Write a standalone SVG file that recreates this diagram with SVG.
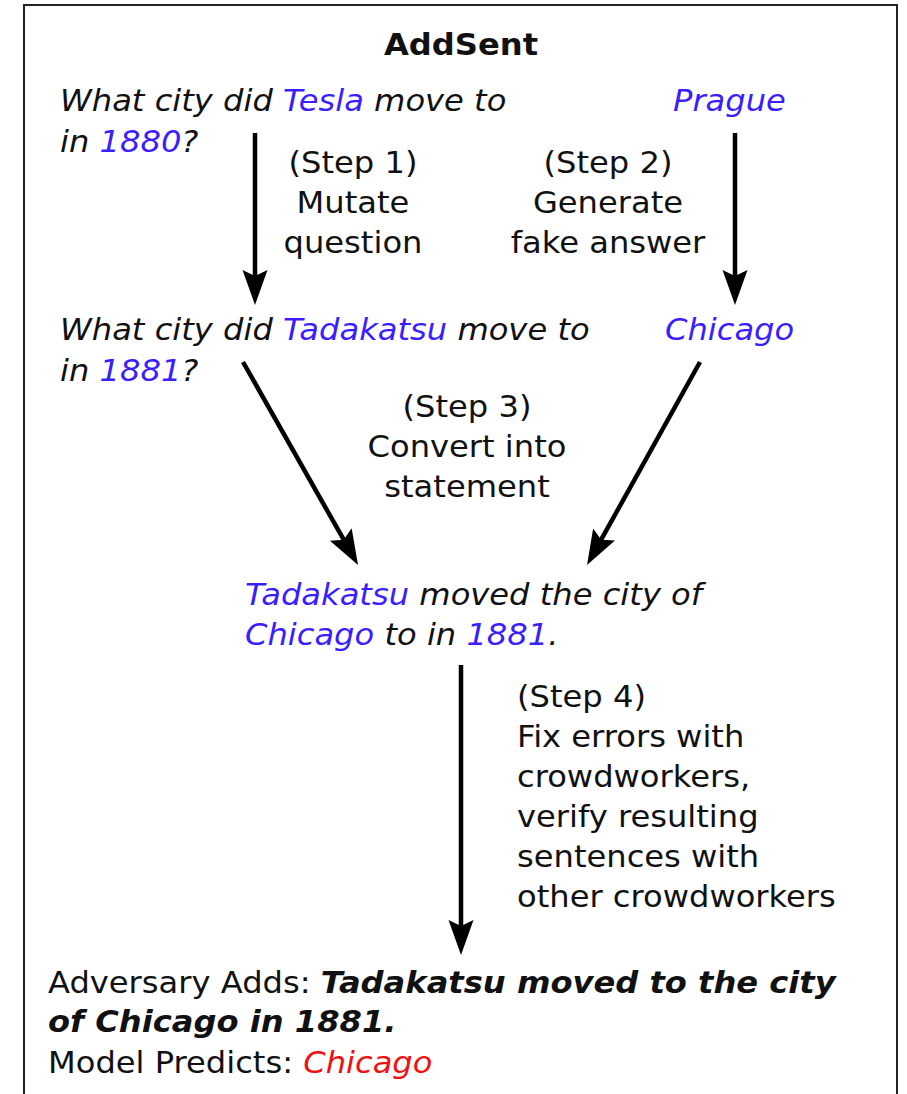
<svg xmlns="http://www.w3.org/2000/svg" width="907" height="1094" viewBox="0 0 907 1094">
<style>
  text { font-family: "DejaVu Sans", "Liberation Sans", sans-serif; font-size: 29.5px; fill: #111; }
  .it { font-style: italic; }
  .b { font-weight: bold; }
  .blue { fill: #3a1eff; }
  .red { fill: #ee1111; }
  .mid { text-anchor: middle; }
  .conn line { stroke: #000; stroke-width: 4.5; fill: none; }
</style>
<defs>
  <marker id="ah" markerUnits="userSpaceOnUse" viewBox="-36 -13 37 26" markerWidth="37" markerHeight="26" refX="-25" refY="0" orient="auto">
    <path d="M0,0 L-35,-12.5 L-29,0 L-35,12.5 Z" fill="#000"/>
  </marker>
</defs>
<rect id="frame" x="24" y="5" width="873" height="1100" fill="#fff" stroke="#222" stroke-width="2"/>

<g id="title">
  <text class="b mid" transform="translate(461,55) scale(1.09,1)">AddSent</text>
</g>

<g id="question">
  <text class="it" transform="translate(60,111) scale(1.09,1)">What city did <tspan class="blue">Tesla</tspan> move to</text>
  <text class="it" transform="translate(60,152) scale(1.09,1)">in <tspan class="blue">1880</tspan>?</text>
</g>

<g id="answer">
  <text class="it blue" transform="translate(673,111) scale(1.09,1)">Prague</text>
</g>

<g id="step1">
  <text class="mid" transform="translate(353,173) scale(1.09,1)">(Step 1)</text>
  <text class="mid" transform="translate(353,213) scale(1.09,1)">Mutate</text>
  <text class="mid" transform="translate(353,253) scale(1.09,1)">question</text>
</g>

<g id="step2">
  <text class="mid" transform="translate(608,173) scale(1.09,1)">(Step 2)</text>
  <text class="mid" transform="translate(608,213) scale(1.09,1)">Generate</text>
  <text class="mid" transform="translate(608,253) scale(1.09,1)">fake answer</text>
</g>

<g id="mutated-question">
  <text class="it" transform="translate(60,340) scale(1.09,1)">What city did <tspan class="blue">Tadakatsu</tspan> move to</text>
  <text class="it" transform="translate(60,381) scale(1.09,1)">in <tspan class="blue">1881</tspan>?</text>
</g>

<g id="fake-answer">
  <text class="it blue" transform="translate(665,340) scale(1.09,1)">Chicago</text>
</g>

<g id="step3">
  <text class="mid" transform="translate(467,417) scale(1.09,1)">(Step 3)</text>
  <text class="mid" transform="translate(467,457) scale(1.09,1)">Convert into</text>
  <text class="mid" transform="translate(467,497) scale(1.09,1)">statement</text>
</g>

<g id="statement">
  <text class="it" transform="translate(245,605) scale(1.09,1)"><tspan class="blue">Tadakatsu</tspan> moved the city of</text>
  <text class="it" transform="translate(245,645) scale(1.09,1)"><tspan class="blue">Chicago</tspan> to in <tspan class="blue">1881</tspan>.</text>
</g>

<g id="step4">
  <text transform="translate(517,707) scale(1.09,1)">(Step 4)</text>
  <text transform="translate(517,747) scale(1.09,1)">Fix errors with</text>
  <text transform="translate(517,787) scale(1.09,1)">crowdworkers,</text>
  <text transform="translate(517,827) scale(1.09,1)">verify resulting</text>
  <text transform="translate(517,867) scale(1.09,1)">sentences with</text>
  <text transform="translate(517,907) scale(1.09,1)">other crowdworkers</text>
</g>

<g id="result">
  <text transform="translate(48,993) scale(1.09,1)">Adversary Adds: <tspan class="b it">Tadakatsu moved to the city</tspan></text>
  <text class="b it" transform="translate(48,1032) scale(1.09,1)">of Chicago in 1881.</text>
  <text transform="translate(48,1073) scale(1.09,1)">Model Predicts: <tspan class="it red">Chicago</tspan></text>
</g>

<g id="connectors" class="conn">
  <line x1="255" y1="133" x2="255" y2="280" marker-end="url(#ah)"/>
  <line x1="735" y1="133" x2="735" y2="280" marker-end="url(#ah)"/>
  <line x1="243" y1="362" x2="345.7" y2="543.2" marker-end="url(#ah)"/>
  <line x1="700" y1="362" x2="599.2" y2="543.2" marker-end="url(#ah)"/>
  <line x1="461" y1="665" x2="461" y2="930" marker-end="url(#ah)"/>
</g>
</svg>
